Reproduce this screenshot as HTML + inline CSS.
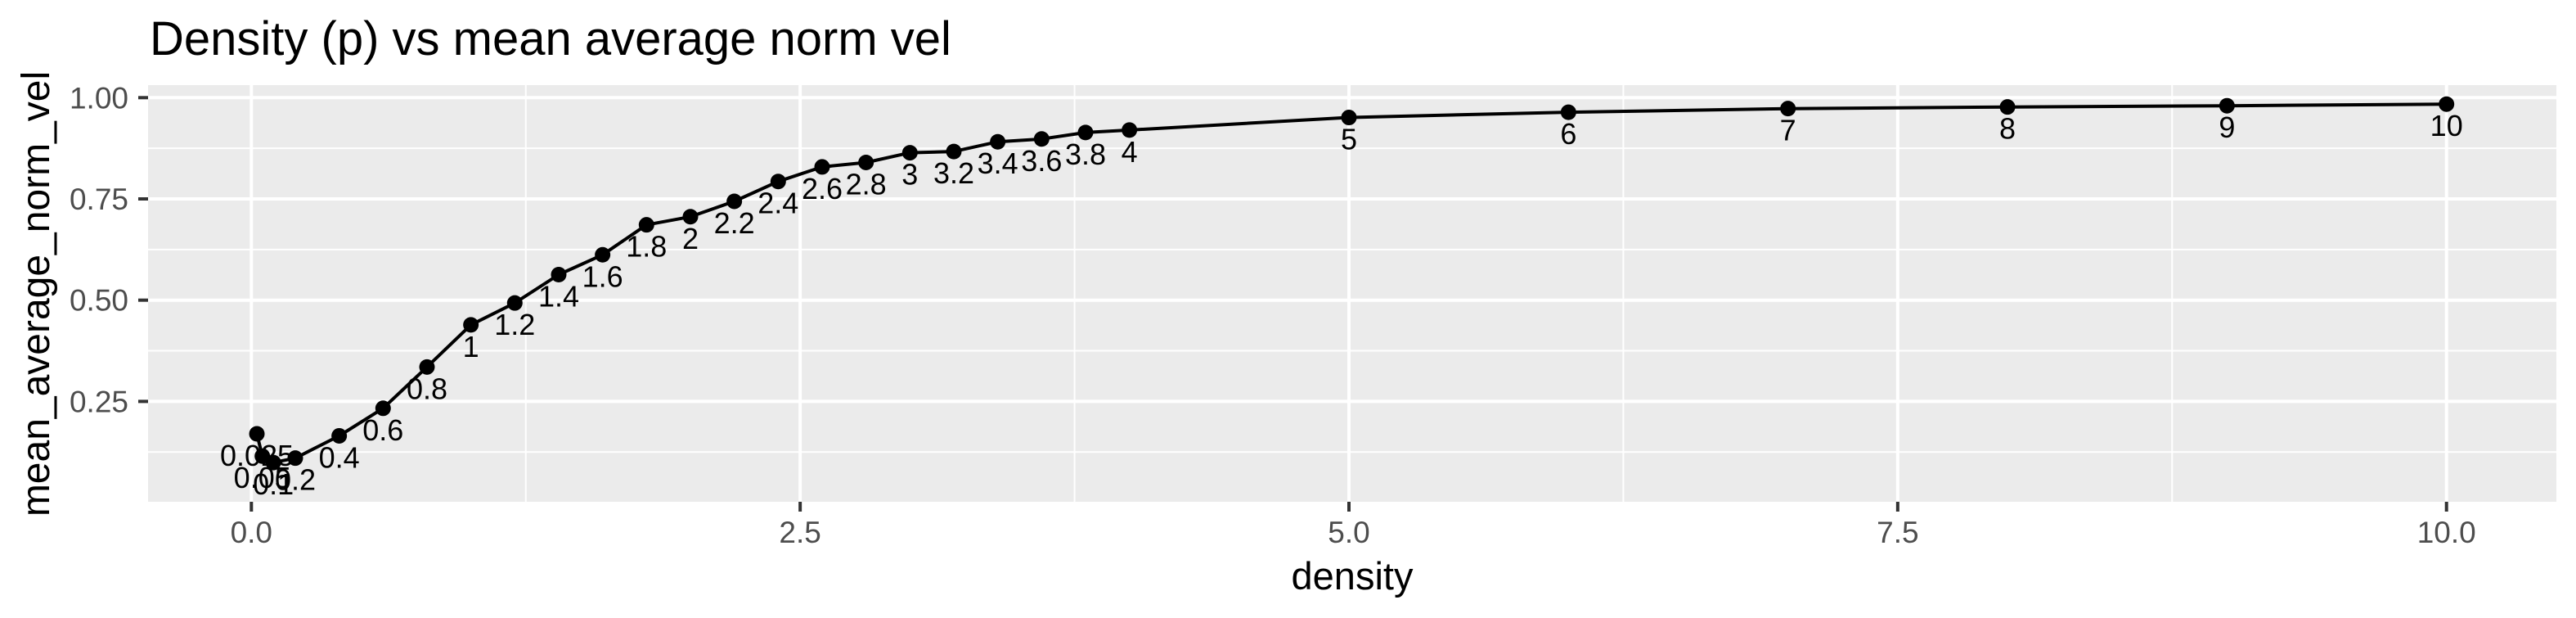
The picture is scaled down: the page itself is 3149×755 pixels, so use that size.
<!DOCTYPE html>
<html><head><meta charset="utf-8"><style>
html,body{margin:0;padding:0;background:#fff;}
svg{display:block;font-family:"Liberation Sans",Arial,sans-serif;}
</style></head><body>
<svg id="chart" width="3149" height="755" viewBox="0 0 3149 755" xmlns="http://www.w3.org/2000/svg">
<rect x="0" y="0" width="3149" height="755" fill="#ffffff"/>
<text x="183" y="67" font-size="58" fill="#000">Density (p) vs mean average norm vel</text>
<rect x="181" y="104" width="2944" height="509" fill="#ebebeb"/>
<g id="grid"></g>
<g id="axes"></g>
<g id="series"></g>
<text x="1653" y="720" font-size="47" text-anchor="middle" fill="#000">density</text>
<text transform="translate(60,359) rotate(-90)" font-size="48" text-anchor="middle" fill="#000">mean_average_norm_vel</text>
</svg>
<script>
const densities = [0.025,0.05,0.1,0.2,0.4,0.6,0.8,1,1.2,1.4,1.6,1.8,2,2.2,2.4,2.6,2.8,3,3.2,3.4,3.6,3.8,4,5,6,7,8,9,10];
const velocities = [0.17,0.115,0.099,0.11,0.165,0.233,0.335,0.439,0.493,0.563,0.612,0.686,0.706,0.744,0.793,0.829,0.840,0.864,0.867,0.891,0.898,0.914,0.920,0.951,0.964,0.973,0.977,0.980,0.984];
const pointLabels = ["0.025","0.05","0.1","0.2","0.4","0.6","0.8","1","1.2","1.4","1.6","1.8","2","2.2","2.4","2.6","2.8","3","3.2","3.4","3.6","3.8","4","5","6","7","8","9","10"];
const xTicks = [0,2.5,5,7.5,10];
const xTickLabels = ["0.0","2.5","5.0","7.5","10.0"];
const yTicks = [0.25,0.5,0.75,1.0];
const yTickLabels = ["0.25","0.50","0.75","1.00"];

const NS = "http://www.w3.org/2000/svg";
const X0 = 307.3, XK = 268.34;
const Y1 = 119.3, YK = 494.8;
function sx(v){ return X0 + v*XK; }
function sy(v){ return Y1 + (1-v)*YK; }
const PL=181, PR=3125, PT=104, PB=613;
function mk(tag, attrs, parent){
  const e=document.createElementNS(NS,tag);
  for(const k in attrs) e.setAttribute(k,attrs[k]);
  parent.appendChild(e); return e;
}
const grid=document.getElementById('grid');
const axes=document.getElementById('axes');
const series=document.getElementById('series');

for(let i=0;i<xTicks.length-1;i++){
  const m=(xTicks[i]+xTicks[i+1])/2;
  const l=mk('line',{x1:sx(m),x2:sx(m),y1:PT,y2:PB,stroke:'#fff','stroke-width':2},grid);
  
  
}
const yMinor=[0.125,0.375,0.625,0.875];
yMinor.forEach(v=>{
  const l=mk('line',{x1:PL,x2:PR,y1:sy(v),y2:sy(v),stroke:'#fff','stroke-width':2},grid);
  
  
});
xTicks.forEach((v,i)=>{
  const l=mk('line',{x1:sx(v),x2:sx(v),y1:PT,y2:PB,stroke:'#fff','stroke-width':4},grid);
  
  
  const t=mk('line',{x1:sx(v),x2:sx(v),y1:PB,y2:PB+12,stroke:'#333','stroke-width':4},axes);
  
  
  const tx=mk('text',{x:sx(v),y:663,'font-size':37,'text-anchor':'middle',fill:'#4d4d4d'},axes);
  tx.textContent=xTickLabels[i];
  
  
});
yTicks.forEach((v,i)=>{
  const l=mk('line',{x1:PL,x2:PR,y1:sy(v),y2:sy(v),stroke:'#fff','stroke-width':4},grid);
  
  
  const t=mk('line',{x1:169,x2:PL,y1:sy(v),y2:sy(v),stroke:'#333','stroke-width':4},axes);
  
  
  const tx=mk('text',{x:157,y:sy(v)+13,'font-size':37,'text-anchor':'end',fill:'#4d4d4d'},axes);
  tx.textContent=yTickLabels[i];
  
  
});
const pts=densities.map((d,i)=>sx(d).toFixed(1)+','+sy(velocities[i]).toFixed(1)).join(' ');
const pl=mk('polyline',{points:pts,fill:'none',stroke:'#000','stroke-width':4,'stroke-linejoin':'round'},series);


densities.forEach((d,i)=>{
  const c=mk('circle',{cx:sx(d),cy:sy(velocities[i]),r:9.5,fill:'#000'},series);
  
  
});
densities.forEach((d,i)=>{
  const t=mk('text',{x:sx(d),y:sy(velocities[i])+39,'font-size':36,'text-anchor':'middle',fill:'#000'},series);
  t.textContent=pointLabels[i];
  
  
});
</script>
</body></html>
